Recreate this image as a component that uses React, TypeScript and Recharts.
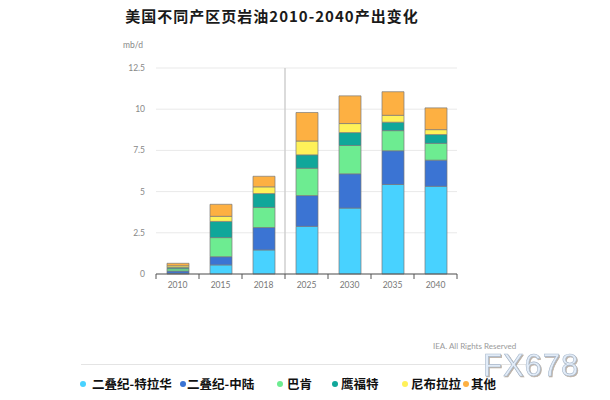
import React from 'react';
import { BarChart, Bar, XAxis, YAxis, CartesianGrid, ReferenceLine } from 'recharts';

const categories = ['2010', '2015', '2018', '2025', '2030', '2035', '2040'];
const delaware = [0.04, 0.55, 1.46, 2.89, 4.0, 5.43, 5.32];
const midland = [0.14, 0.5, 1.36, 1.87, 2.08, 2.05, 1.59];
const bakken = [0.14, 1.16, 1.22, 1.66, 1.72, 1.22, 1.02];
const eagleFord = [0.08, 0.98, 0.84, 0.81, 0.78, 0.51, 0.53];
const niobrara = [0.1, 0.31, 0.41, 0.84, 0.55, 0.42, 0.3];
const other = [0.15, 0.73, 0.64, 1.73, 1.68, 1.43, 1.32];
const yTicks = [0, 2.5, 5, 7.5, 10, 12.5];

const seriesNames = ['二叠纪-特拉华', '二叠纪-中陆', '巴肯', '鹰福特', '尼布拉拉', '其他'];
const seriesKeys = ['delaware', 'midland', 'bakken', 'eagleFord', 'niobrara', 'other'];
const seriesColors = ['#48D2FF', '#3B74D3', '#6DEC91', '#10A79A', '#FFF159', '#FDB042'];
const seriesValues = [delaware, midland, bakken, eagleFord, niobrara, other];

const data = categories.map((c, i) => {
  const row: Record<string, string | number> = { year: c };
  seriesKeys.forEach((k, j) => {
    row[k] = seriesValues[j][i];
  });
  return row;
});

const W = 610;
const H = 400;
const MARGIN = { top: 68, right: 153, bottom: 96, left: 106 };
const Y_AXIS_W = 50;
const X_AXIS_H = 30;
const PLOT_LEFT = MARGIN.left + Y_AXIS_W;
const PLOT_RIGHT = W - MARGIN.right;
const PLOT_BOTTOM = H - MARGIN.bottom - X_AXIS_H;
const BAND = (PLOT_RIGHT - PLOT_LEFT) / categories.length;

const LEGEND_DOT_X = [83, 183, 280, 335, 405, 466];
const LEGEND_TEXT_X = [92, 187, 287, 341, 411, 471];

const XTick = (props: any) => {
  const { x, payload, index } = props;
  const y0 = PLOT_BOTTOM;
  const last = index === categories.length - 1;
  return (
    <g>
      <line x1={x - BAND / 2} x2={x - BAND / 2} y1={y0} y2={y0 + 5} stroke="#555" strokeWidth={1} />
      {last && (
        <line x1={x + BAND / 2} x2={x + BAND / 2} y1={y0} y2={y0 + 5} stroke="#555" strokeWidth={1} />
      )}
      <text x={x} y={y0 + 14} textAnchor="middle" fontSize={8.5} fill="#777" fontFamily="Lato, sans-serif">
        {payload.value}
      </text>
    </g>
  );
};

export default function App() {
  return (
    <div style={{ position: 'absolute', left: 0, top: 0, width: W, height: H, background: '#fff' }}>
      <BarChart width={W} height={H} data={data} margin={MARGIN} barSize={22}>
        <CartesianGrid horizontal={true} vertical={false} stroke="#e9e9e9" strokeWidth={1} />
        <XAxis
          dataKey="year"
          height={X_AXIS_H}
          axisLine={{ stroke: '#555', strokeWidth: 1 }}
          tickLine={false}
          tick={<XTick />}
          interval={0}
        />
        <YAxis
          width={Y_AXIS_W}
          domain={[0, 12.5]}
          ticks={yTicks}
          axisLine={false}
          tickLine={false}
          tickMargin={5}
          tick={{ fontSize: 8.5, fill: '#888', fontFamily: 'Lato, sans-serif' }}
        />
        <ReferenceLine x="2018" position="end" stroke="#cfcfcf" strokeWidth={1.5} />
        {seriesKeys.map((k, j) => (
          <Bar
            key={k}
            dataKey={k}
            name={seriesNames[j]}
            stackId="a"
            fill={seriesColors[j]}
            stroke="#7a7a7a"
            strokeWidth={0.7}
            isAnimationActive={false}
          />
        ))}
      </BarChart>
      <svg width={W} height={H} style={{ position: 'absolute', left: 0, top: 0, pointerEvents: 'none' }}>
        <text
          x={272}
          y={22}
          textAnchor="middle"
          fontSize={15}
          fontWeight={700}
          letterSpacing={1}
          fill="#1a1a1a"
          fontFamily="'Noto Sans CJK SC', sans-serif"
        >
          美国不同产区页岩油2010-2040产出变化
        </text>
        <text x={123} y={48} fontSize={8.5} fill="#888" fontFamily="Lato, sans-serif">
          mb/d
        </text>
        <text x={433} y={349} fontSize={8} fill="#9a9a9a" fontFamily="Lato, sans-serif">
          IEA. All Rights Reserved
        </text>
        <line x1={81} x2={530} y1={364.5} y2={364.5} stroke="#e4e4e4" strokeWidth={1} />
        <text
          x={483}
          y={376}
          fontSize={31}
          letterSpacing={1}
          fill="#e2ecf8"
          stroke="#a9b9cc"
          strokeWidth={0.6}
          fontFamily="'Liberation Sans', Arial, sans-serif"
          style={{ filter: 'drop-shadow(1px 1px 0.5px rgba(120,100,80,0.5))' }}
        >
          FX678
        </text>
        {seriesNames.map((n, j) => (
          <g key={n}>
            <circle cx={LEGEND_DOT_X[j]} cy={384} r={3} fill={seriesColors[j]} />
            <text
              x={LEGEND_TEXT_X[j]}
              y={388.5}
              fontSize={12.5}
              fontWeight={700}
              fill="#111"
              fontFamily="'Noto Sans CJK SC', sans-serif"
            >
              {n}
            </text>
          </g>
        ))}
      </svg>
    </div>
  );
}
